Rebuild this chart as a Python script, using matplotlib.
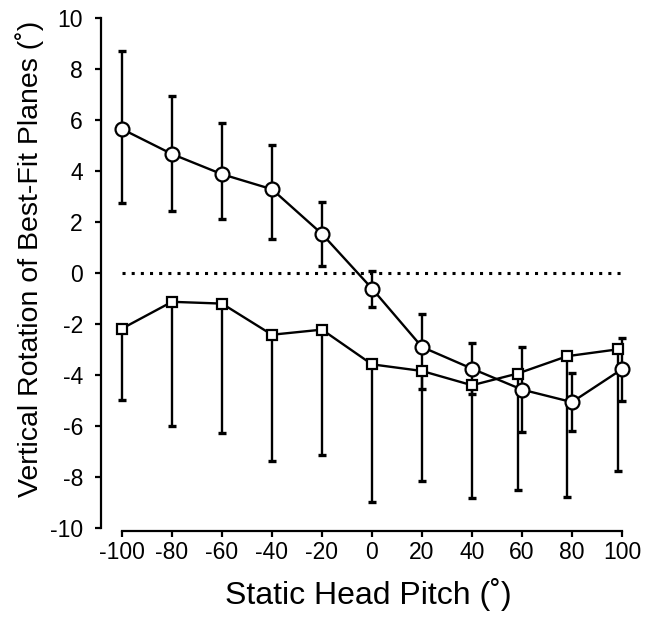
import numpy as np
import matplotlib
matplotlib.use("Agg")
import matplotlib.pyplot as plt

plt.rcParams['font.family'] = ['Liberation Sans', 'DejaVu Sans']

# Static head pitch (deg); squares sit a touch left at the high end
pitch = [-100, -80, -60, -40, -20, 0, 20, 40, 60, 80, 100]
pitch_sq = [-100, -80, -60, -40, -20, 0, 20, 40, 58.3, 78.1, 98.5]

# circles: mean with SD both ways
circ_mean = [5.65, 4.67, 3.88, 3.29, 1.54, -0.60, -2.89, -3.74, -4.56, -5.05, -3.76]
circ_upper = [8.72, 6.94, 5.87, 5.03, 2.78, 0.09, -1.61, -2.73, -2.89, -3.91, -2.52]
circ_lower = [2.74, 2.44, 2.14, 1.33, 0.29, -1.32, -4.52, -4.75, -6.22, -6.20, -5.01]

# squares: mean with SD drawn downward only
sq_mean = [-2.17, -1.12, -1.19, -2.41, -2.21, -3.57, -3.83, -4.39, -3.93, -3.25, -2.98]
sq_lower = [-4.95, -6.00, -6.26, -7.36, -7.11, -8.97, -8.14, -8.82, -8.48, -8.75, -7.75]

xticks = [-100, -80, -60, -40, -20, 0, 20, 40, 60, 80, 100]
yticks = [-10, -8, -6, -4, -2, 0, 2, 4, 6, 8, 10]

fig = plt.figure(figsize=(6.54, 6.17), dpi=100)
ax = fig.add_axes([0.1544, 0.1394, 0.8165, 0.8314])

# zero reference line
ax.plot([-100, 99.5], [0, 0], color='black', lw=2.2,
        linestyle=(0, (1, 2)), dash_capstyle='butt', zorder=1)

cm = np.array(circ_mean)
c_err = [cm - np.array(circ_lower), np.array(circ_upper) - cm]
sm = np.array(sq_mean)
s_err = [sm - np.array(sq_lower), np.zeros_like(sm)]

ebkw = dict(ecolor='black', elinewidth=1.7, capsize=3, capthick=2.4)

ax.errorbar(pitch_sq, sq_mean, yerr=s_err, fmt='none', zorder=2, **ebkw)
ax.errorbar(pitch, circ_mean, yerr=c_err, fmt='none', zorder=2, **ebkw)

ax.plot(pitch_sq, sq_mean, color='black', lw=1.7, marker='s', ms=7.5,
        mfc='white', mec='black', mew=1.6, zorder=3)
ax.plot(pitch, circ_mean, color='black', lw=1.7, marker='o', ms=10,
        mfc='white', mec='black', mew=1.6, zorder=4)

ax.set_xlim(-108.4, 105.2)
ax.set_ylim(-10.1, 10)
ax.set_xticks(xticks)
ax.set_yticks(yticks)
ax.set_xticklabels([str(v) for v in xticks])
ax.set_yticklabels([str(v) for v in yticks])

for s in ['top', 'right']:
    ax.spines[s].set_visible(False)
ax.spines['left'].set_bounds(-10, 10)
ax.spines['bottom'].set_bounds(-100, 100)
ax.spines['left'].set_linewidth(1.6)
ax.spines['bottom'].set_linewidth(1.6)

ax.tick_params(axis='y', direction='out', length=4, width=1.6,
               labelsize=16.5, pad=9)
ax.tick_params(axis='x', direction='out', length=4, width=1.6,
               labelsize=16.5, pad=3)

ax.set_xlabel('Static Head Pitch (˚)', fontsize=23, labelpad=10)
ax.set_ylabel('Vertical Rotation of Best-Fit Planes (˚)', fontsize=20.5)
ax.yaxis.set_label_coords(-0.107, 0.53)

fig.savefig('out.png', dpi=100)
